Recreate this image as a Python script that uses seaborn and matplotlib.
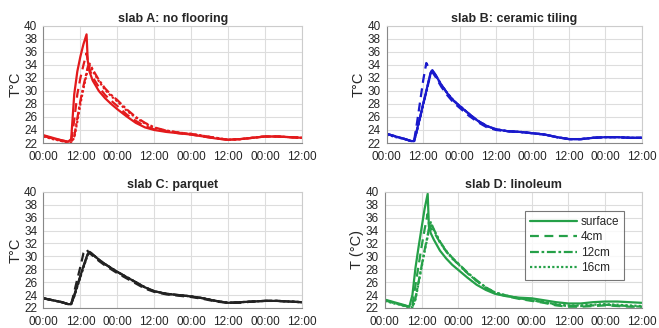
import numpy as np
import pandas as pd
import seaborn as sns
import matplotlib
matplotlib.use("Agg")
import matplotlib.pyplot as plt

# time axis in hours from the first 00:00
hours = [0, 3, 6, 8, 9, 10, 11, 12, 13, 14, 14.4, 15, 16, 18, 20, 22, 24, 27, 30, 33,
         36, 40, 44, 48, 52, 56, 60, 64, 68, 72, 76, 80, 84]
depths = ["surface", "4cm", "12cm", "16cm"]
tick_labels = ["00:00", "12:00"] * 4

# slab A: no flooring
a_surface = [23.2, 22.8, 22.4, 22.2, 22.6, 29.5, 33.0, 35.3, 37.2, 38.7, 34.6, 32.9, 31.6, 30.0, 28.9, 28.0, 27.2,
             26.1, 25.1, 24.4, 24.0, 23.7, 23.5, 23.3, 23.0, 22.7, 22.5, 22.6, 22.8, 23.0, 23.0, 22.9, 22.8]
a_4cm = [23.1, 22.7, 22.4, 22.2, 22.3, 25.5, 29.5, 32.0, 34.0, 35.8, 34.6, 33.3, 32.1, 30.6, 29.4, 28.5, 27.7,
         26.4, 25.4, 24.6, 24.1, 23.8, 23.5, 23.3, 23.0, 22.7, 22.5, 22.6, 22.8, 23.0, 23.0, 22.9, 22.8]
a_12cm = [23.1, 22.7, 22.3, 22.2, 22.2, 23.0, 25.8, 28.5, 30.8, 32.8, 33.7, 34.2, 33.3, 31.7, 30.4, 29.4, 28.6,
          27.2, 26.0, 25.1, 24.4, 23.9, 23.6, 23.4, 23.1, 22.8, 22.5, 22.6, 22.8, 23.0, 23.0, 22.9, 22.8]
a_16cm = [23.0, 22.6, 22.3, 22.1, 22.1, 22.8, 25.3, 28.0, 30.4, 32.5, 33.4, 33.9, 33.1, 31.5, 30.2, 29.2, 28.4,
          27.0, 25.9, 25.0, 24.3, 23.9, 23.6, 23.4, 23.1, 22.8, 22.5, 22.6, 22.8, 23.0, 23.0, 22.9, 22.8]

# slab B: ceramic tiling
b_surface = [23.4, 23.0, 22.6, 22.3, 22.3, 24.2, 26.1, 28.1, 30.0, 32.0, 32.8, 33.2, 32.5, 30.9, 29.6, 28.5, 27.7,
             26.5, 25.4, 24.6, 24.1, 23.8, 23.7, 23.5, 23.3, 22.9, 22.6, 22.6, 22.8, 22.9, 22.9, 22.8, 22.8]
b_4cm = [23.4, 23.0, 22.6, 22.3, 22.4, 25.3, 28.5, 31.7, 34.3, 33.4, 33.2, 32.9, 32.2, 30.6, 29.3, 28.2, 27.4,
         26.2, 25.2, 24.4, 24.0, 23.8, 23.7, 23.5, 23.3, 22.9, 22.6, 22.6, 22.8, 22.9, 22.9, 22.8, 22.8]
b_12cm = [23.4, 23.0, 22.6, 22.3, 22.3, 24.1, 26.0, 28.0, 29.9, 31.9, 32.7, 33.1, 32.5, 30.9, 29.6, 28.5, 27.7,
          26.5, 25.4, 24.6, 24.1, 23.8, 23.7, 23.5, 23.3, 22.9, 22.6, 22.6, 22.8, 22.9, 22.9, 22.8, 22.8]
b_16cm = [23.3, 22.9, 22.6, 22.3, 22.3, 24.0, 25.9, 27.9, 29.8, 31.8, 32.6, 33.0, 32.4, 30.9, 29.6, 28.5, 27.7,
          26.5, 25.4, 24.6, 24.1, 23.8, 23.7, 23.5, 23.3, 22.9, 22.6, 22.6, 22.8, 22.9, 22.9, 22.8, 22.8]

# slab C: parquet
c_surface = [23.5, 23.2, 22.9, 22.6, 22.6, 24.0, 25.5, 27.0, 28.5, 29.9, 30.4, 30.7, 30.3, 29.5, 28.8, 28.2, 27.6,
             26.8, 26.0, 25.2, 24.6, 24.2, 24.0, 23.8, 23.5, 23.1, 22.8, 22.9, 23.0, 23.1, 23.1, 23.0, 22.9]
c_4cm = [23.5, 23.2, 22.9, 22.6, 22.6, 24.5, 26.5, 28.4, 30.5, 31.1, 30.8, 30.5, 30.1, 29.3, 28.6, 28.0, 27.4,
         26.6, 25.8, 25.0, 24.5, 24.1, 23.9, 23.7, 23.4, 23.0, 22.8, 22.8, 23.0, 23.1, 23.1, 23.0, 22.9]
c_12cm = [23.5, 23.2, 22.9, 22.6, 22.6, 23.9, 25.4, 26.9, 28.4, 29.8, 30.3, 30.7, 30.3, 29.5, 28.8, 28.2, 27.6,
          26.8, 26.0, 25.2, 24.6, 24.2, 24.0, 23.8, 23.5, 23.1, 22.8, 22.9, 23.0, 23.1, 23.1, 23.0, 22.9]
c_16cm = [23.5, 23.2, 22.9, 22.6, 22.6, 23.8, 25.3, 26.8, 28.3, 29.7, 30.2, 30.6, 30.3, 29.5, 28.8, 28.2, 27.6,
          26.8, 26.0, 25.2, 24.6, 24.2, 24.0, 23.8, 23.5, 23.1, 22.8, 22.9, 23.0, 23.1, 23.1, 23.0, 22.9]

# slab D: linoleum
d_surface = [23.3, 22.9, 22.5, 22.2, 24.0, 28.2, 31.4, 34.4, 37.4, 39.7, 34.6, 33.6, 32.6, 30.9, 29.7, 28.7, 27.9,
             26.7, 25.6, 24.8, 24.2, 23.8, 23.6, 23.5, 23.2, 22.9, 22.7, 22.7, 22.9, 23.0, 23.0, 22.9, 22.8]
d_4cm = [23.2, 22.8, 22.4, 22.2, 22.4, 25.5, 28.5, 31.5, 34.2, 36.6, 35.0, 34.4, 33.8, 32.2, 30.8, 29.7, 28.8,
         27.4, 26.2, 25.1, 24.3, 23.8, 23.4, 23.1, 22.8, 22.4, 22.2, 22.2, 22.3, 22.4, 22.3, 22.2, 22.2]
d_12cm = [23.2, 22.8, 22.4, 22.2, 22.2, 23.5, 26.0, 28.5, 31.0, 33.3, 34.3, 35.3, 34.2, 32.3, 30.9, 29.8, 28.9,
          27.5, 26.3, 25.2, 24.4, 23.9, 23.5, 23.2, 22.9, 22.5, 22.3, 22.3, 22.4, 22.5, 22.4, 22.3, 22.2]
d_16cm = [23.1, 22.7, 22.4, 22.1, 22.1, 23.3, 25.8, 28.3, 30.8, 33.1, 34.1, 35.1, 34.1, 32.2, 30.8, 29.7, 28.8,
          27.4, 26.2, 25.2, 24.4, 23.9, 23.5, 23.2, 22.9, 22.6, 22.4, 22.4, 22.5, 22.6, 22.5, 22.4, 22.3]

slabs = [
    ("slab A: no flooring", [a_surface, a_4cm, a_12cm, a_16cm], "#e31a1c", "T°C"),
    ("slab B: ceramic tiling", [b_surface, b_4cm, b_12cm, b_16cm], "#1a1acc", "T°C"),
    ("slab C: parquet", [c_surface, c_4cm, c_12cm, c_16cm], "#222222", "T°C"),
    ("slab D: linoleum", [d_surface, d_4cm, d_12cm, d_16cm], "#25a048", "T (°C)"),
]

sns.set_style("whitegrid")
plt.rcParams["font.family"] = ["Liberation Sans", "DejaVu Sans"]

dash_map = {"surface": "", "4cm": (4, 2.5), "12cm": (4, 1.2, 1.2, 1.2), "16cm": (1, 1)}

fig = plt.figure(figsize=(6.59, 3.28), dpi=100)
positions = [
    [0.066, 0.564, 0.392, 0.357],
    [0.587, 0.564, 0.387, 0.357],
    [0.066, 0.061, 0.392, 0.354],
    [0.584, 0.061, 0.390, 0.354],
]

for (title, series, color, ylab), pos in zip(slabs, positions):
    ax = fig.add_axes(pos)
    df = pd.DataFrame({"hours": hours * 4,
                       "temp": sum(series, []),
                       "depth": np.repeat(depths, len(hours))})
    sns.lineplot(data=df, x="hours", y="temp", style="depth", style_order=depths,
                 dashes=dash_map, color=color, linewidth=1.6, ax=ax, legend=(ylab == "T (°C)"))
    ax.set_xlim(0, 84)
    ax.set_ylim(22, 40)
    ax.set_xticks(range(0, 85, 12))
    ax.set_xticklabels(tick_labels, fontsize=8.5)
    ax.set_yticks(range(22, 41, 2))
    ax.tick_params(axis="y", labelsize=8.5, pad=1)
    ax.tick_params(axis="x", pad=2)
    ax.set_xlabel("")
    ax.set_ylabel(ylab, fontsize=10.5, labelpad=1)
    ax.set_title(title, fontsize=9, fontweight="bold", pad=3)
    ax.grid(color="#dddddd", linewidth=0.8)
    for s in ax.spines.values():
        s.set_color("#cccccc")
    ax.spines["left"].set_color("#888888")
    ax.spines["bottom"].set_color("#888888")
    if ylab == "T (°C)":
        handles, labels = ax.get_legend_handles_labels()
        leg = ax.legend(handles, labels, loc="upper right", bbox_to_anchor=(0.955, 0.89),
                        fontsize=8.5, handlelength=4.0, frameon=True, fancybox=False,
                        borderpad=0.45, labelspacing=0.3, handletextpad=0.3)
        leg.get_frame().set_edgecolor("#555555")
        leg.get_frame().set_linewidth(0.8)

fig.savefig("out.png", dpi=100)
